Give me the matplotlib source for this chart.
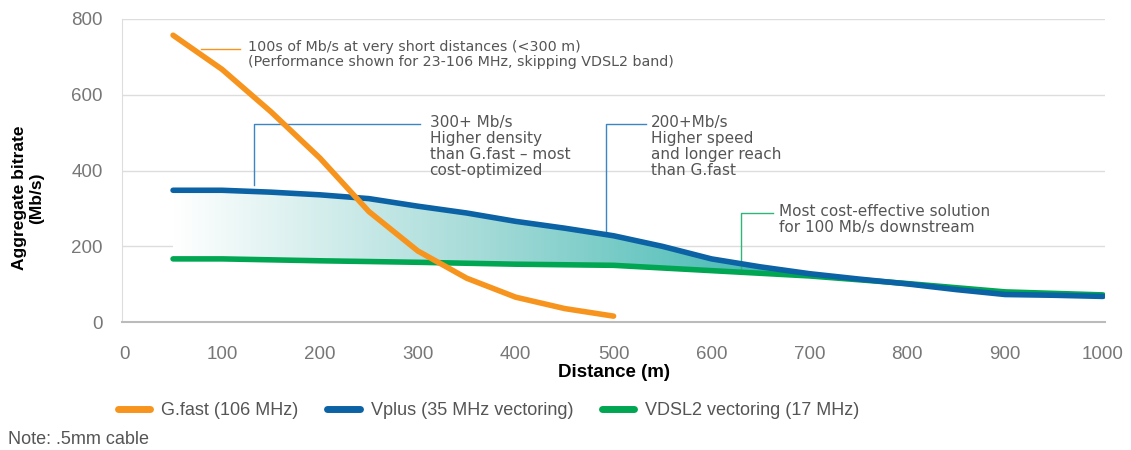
import numpy as np
import matplotlib
matplotlib.use('Agg')
import matplotlib.pyplot as plt
from matplotlib.colors import LinearSegmentedColormap

plt.rcParams['font.family'] = ['DejaVu Sans']
arial = ['Liberation Sans', 'DejaVu Sans']

# data
gfast_x = [50, 100, 150, 200, 250, 300, 350, 400, 450, 500]
gfast_y = [757, 667, 555, 433, 292, 188, 116, 66, 36, 16]

vplus_x = [50, 100, 150, 200, 250, 300, 350, 400, 450, 500, 550, 600, 650, 700, 750, 800, 850, 900, 950, 1000]
vplus_y = [348, 348, 343, 336, 326, 306, 288, 266, 248, 228, 200, 167, 146, 128, 114, 101, 86, 73, 71, 68]

vdsl_x = [50, 100, 200, 300, 400, 500, 600, 700, 800, 900, 1000]
vdsl_y = [167, 167, 162, 158, 153, 150, 136, 122, 102, 80, 72]

x_ticks = [0, 100, 200, 300, 400, 500, 600, 700, 800, 900, 1000]
y_ticks = [0, 200, 400, 600, 800]

legend_labels = ['G.fast (106 MHz)', 'Vplus (35 MHz vectoring)', 'VDSL2 vectoring (17 MHz)']
c_orange, c_blue, c_green = '#F7941D', '#0B62A4', '#00A651'
txt = '#555555'

fig = plt.figure(figsize=(11.31, 4.5), dpi=100)
ax = fig.add_axes([0.108, 0.284, 0.869, 0.674])

# gradient fill between Vplus and VDSL2
xs = np.array(vplus_x, dtype=float)
green_i = np.interp(xs, vdsl_x, vdsl_y)
poly = ax.fill_between(xs, green_i, vplus_y, color='none', lw=0)
cmap = LinearSegmentedColormap.from_list('g', ['#ffffff', '#a5dbd8', '#3db7b1'])
grad = np.linspace(0, 1, 256).reshape(1, -1)
im = ax.imshow(grad, extent=[50, 680, 0, 400], aspect='auto', cmap=cmap, zorder=1)
im.set_clip_path(poly.get_paths()[0], transform=ax.transData)

ax.plot(vdsl_x, vdsl_y, color=c_green, lw=4, solid_capstyle='round', zorder=3)
ax.plot(vplus_x, vplus_y, color=c_blue, lw=4, solid_capstyle='round', zorder=4)
ax.plot(gfast_x, gfast_y, color=c_orange, lw=4, solid_capstyle='round', zorder=5)

ax.set_xlim(-2, 1002)
ax.set_ylim(0, 800)
ax.set_xticks(x_ticks)
ax.set_yticks(y_ticks)
ax.grid(axis='y', color='#dddddd', lw=1)
ax.set_axisbelow(True)
for s in ['top', 'right']:
    ax.spines[s].set_visible(False)
ax.spines['left'].set_color('#dddddd')
ax.spines['bottom'].set_color('#bbbbbb')
ax.spines['bottom'].set_linewidth(1.5)
ax.tick_params(length=0, labelsize=13.5, labelcolor='#777777')
ax.tick_params(axis='x', pad=17)
ax.tick_params(axis='y', pad=14)
for lab in ax.get_xticklabels() + ax.get_yticklabels():
    lab.set_family(arial)
ax.set_xlabel('Distance (m)', fontsize=13.5, fontweight='bold', labelpad=1, family=arial)
fig.text(0.025, 0.56, 'Aggregate bitrate\n(Mb/s)', rotation=90, ha='center', va='center',
         fontsize=12.5, fontweight='bold', family=arial, linespacing=1.15)

# annotations
ax.plot([79, 118], [720, 720], color=c_orange, lw=1)
ax.text(127, 745, '100s of Mb/s at very short distances (<300 m)\n(Performance shown for 23-106 MHz, skipping VDSL2 band)',
        fontsize=10.3, color=txt, va='top', ha='left', linespacing=1.12)
ax.plot([133, 133, 302], [362, 524, 524], color='#3a86c4', lw=1)
ax.text(312, 547, '300+ Mb/s\nHigher density\nthan G.fast – most\ncost-optimized',
        fontsize=11, color=txt, va='top', ha='left', linespacing=1.1)
ax.plot([492, 492, 533], [238, 524, 524], color='#3a86c4', lw=1)
ax.text(538, 547, '200+Mb/s\nHigher speed\nand longer reach\nthan G.fast',
        fontsize=11, color=txt, va='top', ha='left', linespacing=1.1)
ax.plot([630, 630, 663], [138, 288, 288], color='#2fb57a', lw=1)
ax.text(669, 311, 'Most cost-effective solution\nfor 100 Mb/s downstream',
        fontsize=11, color=txt, va='top', ha='left', linespacing=1.1)

# legend
handles = [plt.Line2D([], [], color=c, lw=5, solid_capstyle='round') for c in (c_orange, c_blue, c_green)]
fig.legend(handles, legend_labels, loc='center', bbox_to_anchor=(0.432, 0.087), ncol=3, frameon=False,
           prop={'family': arial, 'size': 13}, labelcolor=txt, handlelength=1.8, columnspacing=1.6,
           handletextpad=0.6)

fig.text(0.007, 0.014, 'Note: .5mm cable', fontsize=13, color=txt, family=arial)

fig.savefig('out.png', dpi=100)
